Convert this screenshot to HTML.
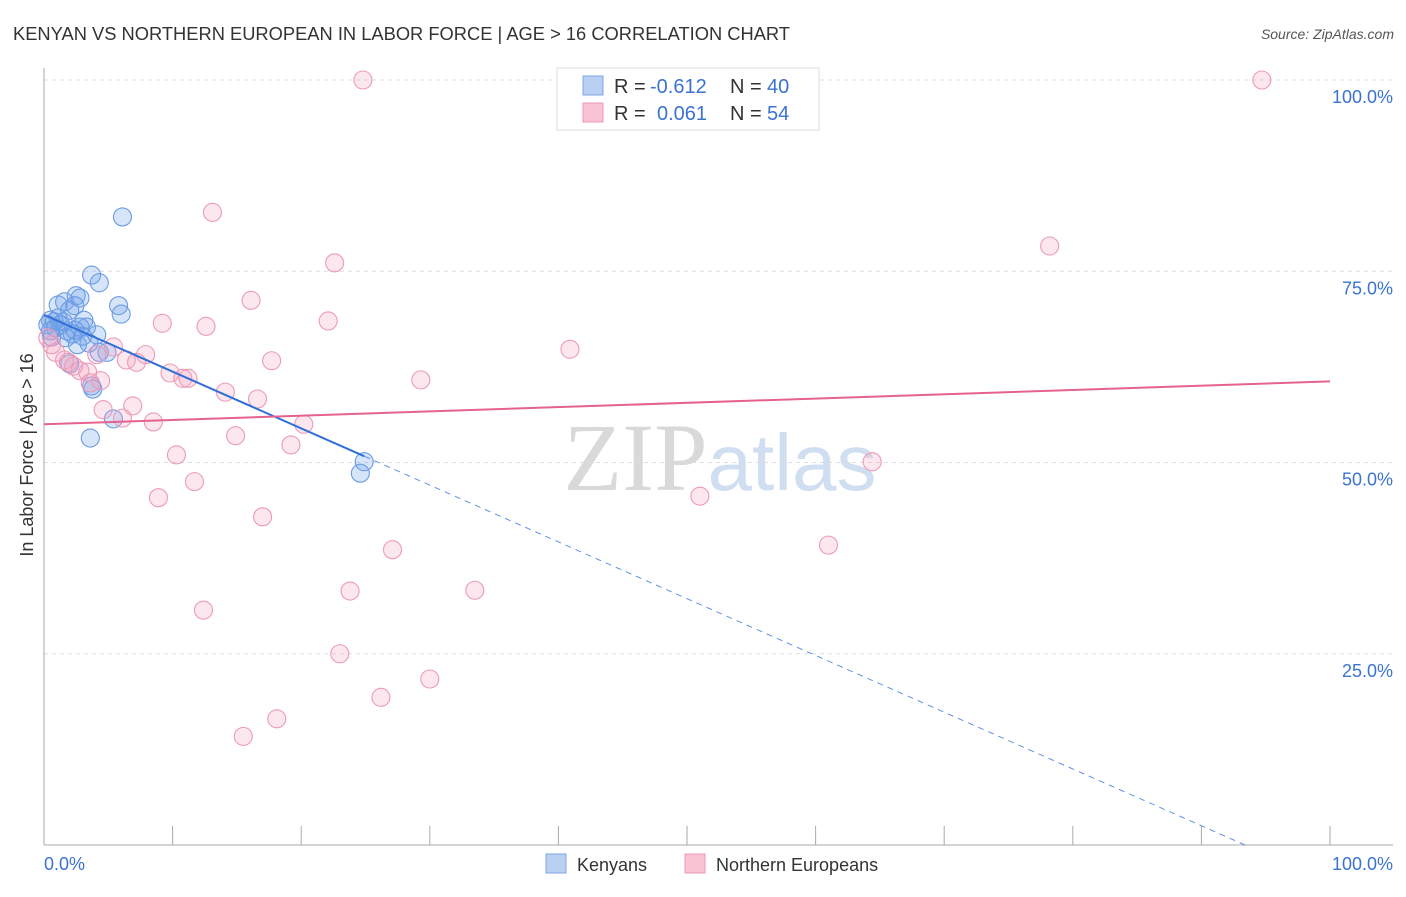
<!DOCTYPE html>
<html><head><meta charset="utf-8"><style>
body{margin:0;background:#fff;font-family:"Liberation Sans",sans-serif}
</style></head><body>
<svg id="chart" width="1406" height="892" xmlns="http://www.w3.org/2000/svg" font-family="Liberation Sans, sans-serif">
<text x="13" y="40" font-size="18" fill="#333" textLength="777" lengthAdjust="spacingAndGlyphs">KENYAN VS NORTHERN EUROPEAN IN LABOR FORCE | AGE &gt; 16 CORRELATION CHART</text>
<text x="1394" y="39" font-size="14" fill="#555" text-anchor="end" font-style="italic">Source: ZipAtlas.com</text>
<text x="720" y="490" font-size="96" text-anchor="middle" fill="#ddd" opacity="0.8"><tspan font-family="Liberation Serif, serif" fill="#d0d0d0">ZIP</tspan><tspan fill="#c5d6ee" font-size="80">atlas</tspan></text>
<text transform="translate(33,455) rotate(-90)" font-size="18" fill="#333" text-anchor="middle">In Labor Force | Age &gt; 16</text>
<g id="grid"></g><g id="marks"></g>
<g font-size="20">
<rect x="557" y="68" width="262" height="62" fill="#fff" stroke="#ddd"/>
<rect x="583" y="76" width="20" height="19" fill="#b9d0f3" stroke="#7ea6e6"/>
<rect x="583" y="103" width="20" height="19" fill="#f9c3d3" stroke="#ee9ab5"/>
<text x="614" y="93" fill="#333">R =</text>
<text x="650" y="93" fill="#3b73d1">-0.612</text>
<text x="730" y="93" fill="#333">N =</text>
<text x="767" y="93" fill="#3b73d1">40</text>
<text x="614" y="120" fill="#333">R =</text>
<text x="657" y="120" fill="#3b73d1">0.061</text>
<text x="730" y="120" fill="#333">N =</text>
<text x="767" y="120" fill="#3b73d1">54</text>
</g>
<g>
<rect x="546" y="854" width="20" height="19" fill="#b9d0f3" stroke="#7ea6e6"/>
<text x="577" y="871" font-size="18" fill="#333">Kenyans</text>
<rect x="685" y="854" width="20" height="19" fill="#f9c3d3" stroke="#ee9ab5"/>
<text x="716" y="871" font-size="18" fill="#333">Northern Europeans</text>
</g>
<text x="44" y="870" font-size="18" fill="#3b73d1">0.0%</text>
<text x="1393" y="870" font-size="18" fill="#3b73d1" text-anchor="end">100.0%</text>
</svg>
<script>
const yTicks=[100,75,50,25];
const yTickLabels=["100.0%","75.0%","50.0%","25.0%"];
const xTicks=[10,20,30,40,50,60,70,80,90,100];
const kenX=[6.1,3.7,4.3,1.1,1.6,2.5,2.8,5.8,6.0,0.5,0.8,1.1,1.3,2.0,2.4,3.1,3.3,2.8,1.8,0.5,0.6,2.2,4.1,2.6,3.5,4.3,4.9,2.0,3.7,3.8,5.4,3.6,24.9,24.6,1.5,0.3,0.9,1.7,3.0,2.4];
const kenY=[82.1,74.5,73.5,70.6,71.0,71.8,71.5,70.5,69.4,68.6,68.4,68.9,68.0,69.9,70.5,68.6,67.7,67.7,67.2,67.2,66.4,66.8,66.7,65.4,65.6,64.4,64.4,62.9,60.0,59.6,55.7,53.2,50.1,48.6,68.4,68.0,67.6,66.3,66.5,67.3];
const neX=[24.8,94.7,13.1,78.2,22.6,16.1,9.2,12.6,22.1,0.3,0.6,0.9,1.6,5.4,7.9,6.4,4.1,7.2,17.7,40.9,1.9,2.3,2.8,3.4,9.8,10.8,11.2,4.4,29.3,3.6,14.1,16.6,6.9,4.6,6.1,8.5,20.2,14.9,19.2,10.3,64.4,11.7,8.9,51.0,17.0,27.1,61.0,23.8,33.5,12.4,23.0,30.0,26.2,18.1,15.5];
const neY=[100,100,82.7,78.3,76.1,71.2,68.2,67.8,68.5,66.3,65.4,64.4,63.4,65.1,64.1,63.4,64.1,63.1,63.3,64.8,63.1,62.6,62.0,61.8,61.7,61.0,61.0,60.7,60.8,60.4,59.2,58.3,57.4,56.9,55.8,55.3,55.0,53.5,52.3,51.0,50.1,47.5,45.4,45.6,42.9,38.6,39.2,33.2,33.3,30.7,25.0,21.7,19.3,16.5,14.2];
const kenTrend=[69.3,-0.742]; // intercept, slope
const neTrend=[55.0,0.056];
const NS="http://www.w3.org/2000/svg";
const X=v=>44+v*12.86, Y=v=>845-v*7.65;
function mk(t,a,p){const e=document.createElementNS(NS,t);for(const k in a)e.setAttribute(k,a[k]);(p||document.getElementById('marks')).appendChild(e);return e;}
const grid=document.getElementById('grid');
yTicks.forEach((t,i)=>{
 const l=mk('line',{x1:44,x2:1393,y1:Y(t),y2:Y(t),stroke:'#ddd','stroke-dasharray':'4,4'},grid);
 
 
 const tx=mk('text',{x:1393,y:Y(t)+23,'font-size':18,fill:'#3b73d1','text-anchor':'end'},grid);
 tx.textContent=yTickLabels[i];
 
 
});
const ya=mk('line',{x1:44,x2:44,y1:68,y2:845,stroke:'#aaa'},grid);


const xa=mk('line',{x1:44,x2:1393,y1:845,y2:845,stroke:'#aaa'},grid);


xTicks.forEach(t=>{
 const l=mk('line',{x1:X(t),x2:X(t),y1:826,y2:845,stroke:'#aaa'},grid);
 
 
});
kenX.forEach((x,i)=>{
 const c=mk('circle',{cx:X(x),cy:Y(kenY[i]),r:9,fill:'rgba(110,160,235,0.28)',stroke:'#6b9be4','stroke-width':1.1});
 
 
});
neX.forEach((x,i)=>{
 const c=mk('circle',{cx:X(x),cy:Y(neY[i]),r:9,fill:'rgba(245,160,190,0.25)',stroke:'#ec9ab6','stroke-width':1.1});
 
 
});
const kmax=Math.max(...kenX);
const kend=-kenTrend[0]/kenTrend[1];
const kl=mk('line',{x1:X(0),y1:Y(kenTrend[0]),x2:X(kmax),y2:Y(kenTrend[0]+kenTrend[1]*kmax),stroke:'#2f6fd6','stroke-width':2});


const kd=mk('line',{x1:X(kmax),y1:Y(kenTrend[0]+kenTrend[1]*kmax),x2:X(kend),y2:Y(0),stroke:'#5f93e3','stroke-width':1,'stroke-dasharray':'6,5'});


const nl=mk('line',{x1:X(0),y1:Y(neTrend[0]),x2:X(100),y2:Y(neTrend[0]+neTrend[1]*100),stroke:'#e5628f','stroke-width':2});


</script>
</body></html>
